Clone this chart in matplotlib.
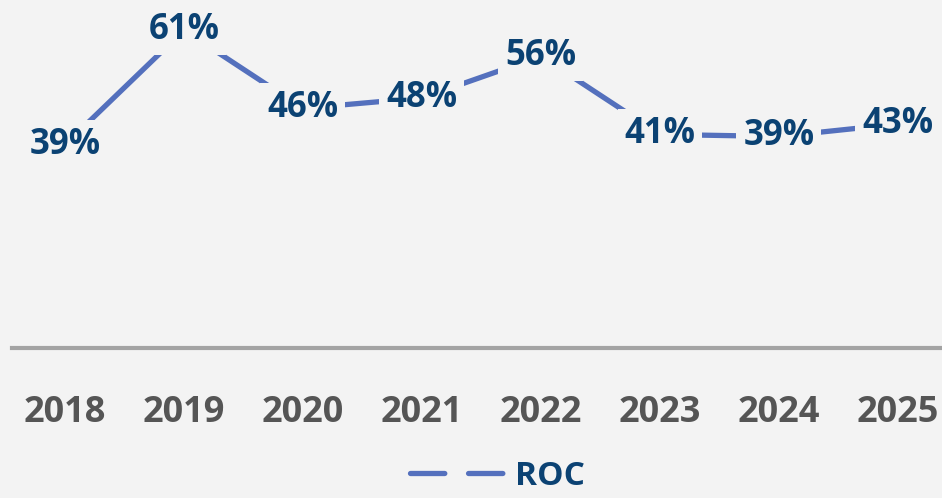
import matplotlib.pyplot as plt
from matplotlib.lines import Line2D

years = ["2018", "2019", "2020", "2021", "2022", "2023", "2024", "2025"]
roc = [39, 61, 46, 48, 56, 41, 40.6, 43]
roc_labels = ["39%", "61%", "46%", "48%", "56%", "41%", "39%", "43%"]

bg = "#f3f3f3"
line_col = "#5470bd"
lab_col = "#0b4273"

plt.rcParams['font.family'] = ['Open Sans', 'DejaVu Sans']

fig = plt.figure(figsize=(9.42, 4.98), dpi=100, facecolor=bg)
ax = fig.add_axes([12/942, 1-348/498, 930/942, 348/498])
ax.set_facecolor(bg)

x = list(range(len(years)))
ax.plot(x, roc, color=line_col, lw=3.8, solid_capstyle="round", zorder=2)
for xi, v, lab in zip(x, roc, roc_labels):
    ax.text(xi, v, lab, ha="center", va="center", fontsize=25, fontweight="bold",
            color=lab_col, zorder=3,
            bbox=dict(boxstyle="square,pad=0.2", fc=bg, ec="none"))

ax.set_xlim(-0.445, 7.37)
ax.set_ylim(0, 66.8)
for s in ["top", "right", "left"]:
    ax.spines[s].set_visible(False)
ax.spines["bottom"].set_color("#a3a3a3")
ax.spines["bottom"].set_linewidth(3)
ax.set_yticks([])
ax.set_xticks(x)
ax.set_xticklabels(years, fontsize=26, fontweight="bold", color="#555555")
ax.tick_params(axis="x", length=0, pad=34)

handle = Line2D([], [], color=line_col, lw=3.8, dashes=(6.5, 4.5), dash_capstyle="round")
leg = fig.legend([handle], ["ROC"], loc="center", bbox_to_anchor=(498/942, 1-476/498),
                 frameon=False, handlelength=2.9, handletextpad=0.25,
                 prop=dict(size=24, weight="bold"))
for t in leg.get_texts():
    t.set_color(lab_col)

fig.savefig("out.png", dpi=100, facecolor=bg)
